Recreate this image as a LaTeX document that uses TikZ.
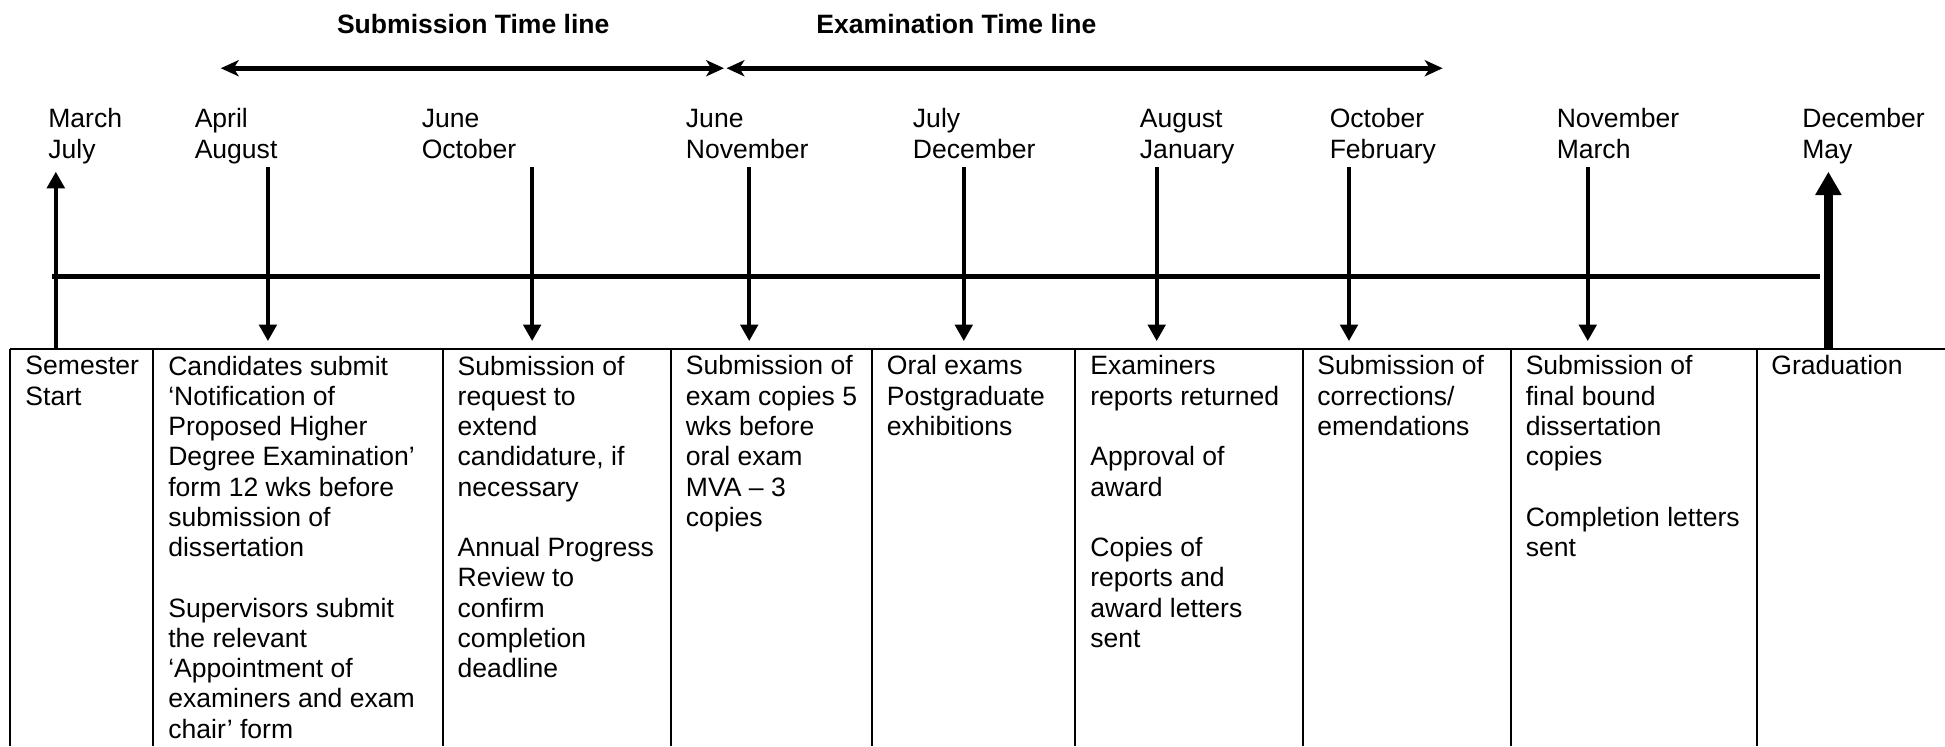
\documentclass[tikz,border=0pt]{standalone}
\usepackage{fontspec}
\setmainfont{Liberation Sans}
\usetikzlibrary{arrows.meta}
\newcommand\cellstrut{\rule{0pt}{8pt}}
\begin{document}
\begin{tikzpicture}[x=0.5pt,y=-0.5pt,
  every node/.style={inner sep=0pt, outer sep=0pt, font=\fontsize{10.7}{12.2}\selectfont},
  cell/.style={anchor=north west, align=left},
  month/.style={anchor=north west, align=left},
  ttl/.style={anchor=base, font=\fontsize{10.7}{12.2}\selectfont\bfseries},
  tick/.style={line width=1.75pt, -{Triangle[length=6.7pt,width=7pt]}},
  bigtick/.style={line width=3.3pt, -{Triangle[length=9.4pt,width=10pt]}},
  span/.style={line width=2pt, {Stealth[length=7.2pt,width=6.5pt,inset=2pt]}-{Stealth[length=7.2pt,width=6.5pt,inset=2pt]}},
  axis/.style={line width=1.9pt},
  grid/.style={line width=0.8pt}]
\useasboundingbox (0,0) rectangle (1568,601.4);

% titles
\node[ttl] (t1) at (381.5,27) {Submission Time line};
\node[ttl] (t2) at (771,27) {Examination Time line};

% span arrows
\coordinate (s1) at (178,55);
\coordinate (s2) at (583.7,55);
\coordinate (s3) at (585.7,55);
\coordinate (s4) at (1163,55);
\draw[span] (s1) -- (s2);
\draw[span] (s3) -- (s4);

% month labels
\node[month] (m1) at (39,87) {\cellstrut March\\July};
\node[month] (m2) at (157,87) {\cellstrut April\\August};
\node[month] (m3) at (340,87) {\cellstrut June\\October};
\node[month] (m4) at (553,87) {\cellstrut June\\November};
\node[month] (m5) at (736,87) {\cellstrut July\\December};
\node[month] (m6) at (919,87) {\cellstrut August\\January};
\node[month] (m7) at (1072,87) {\cellstrut October\\February};
\node[month] (m8) at (1255,87) {\cellstrut November\\March};
\node[month] (m9) at (1453,87) {\cellstrut December\\May};

% main axis
\coordinate (a0) at (42,223);
\coordinate (a1) at (1467,223);
\draw[axis] (a0) -- (a1);

% vertical arrows
\coordinate (u1b) at (45,281.4);  \coordinate (u1t) at (45,138.4);
\draw[tick] (u1b) -- (u1t);
\foreach \i/\x in {2/216,3/429,4/604,5/777,6/932.5,7/1087.5,8/1280}{
  \coordinate (d\i t) at (\x,135);
  \coordinate (d\i b) at (\x,275);
  \draw[tick] (d\i t) -- (d\i b);
}
\coordinate (u9b) at (1474,281.4); \coordinate (u9t) at (1474,138.4);
\draw[bigtick] (u9b) -- (u9t);

% table grid
\coordinate (gtl) at (8,281.4);
\coordinate (gtr) at (1568,281.4);
\draw[grid] (gtl) -- (gtr);
\foreach \x in {8,123.5,357.4,540.6,703,867,1050.5,1218,1416.4}{
  \draw[grid] (\x,281.4) -- (\x,601.4);
}

% table texts
\node[cell] (c1) at (20.5,286.3) {\cellstrut Semester\\Start};
\node[cell] (c2) at (135.7,286.3) {\cellstrut Candidates submit\\‘Notification of\\Proposed Higher\\Degree Examination’\\form 12 wks before\\submission of\\dissertation\\[12.2pt]Supervisors submit\\the relevant\\‘Appointment of\\examiners and exam\\chair’ form};
\node[cell] (c3) at (369,286.3) {\cellstrut Submission of\\request to\\extend\\candidature, if\\necessary\\[12.2pt]Annual Progress\\Review to\\confirm\\completion\\deadline};
\node[cell] (c4) at (553,286.3) {\cellstrut Submission of\\exam copies 5\\wks before\\oral exam\\MVA – 3\\copies};
\node[cell] (c5) at (715,286.3) {\cellstrut Oral exams\\Postgraduate\\exhibitions};
\node[cell] (c6) at (879,286.3) {\cellstrut Examiners\\reports returned\\[12.2pt]Approval of\\award\\[12.2pt]Copies of\\reports and\\award letters\\sent};
\node[cell] (c7) at (1062,286.3) {\cellstrut Submission of\\corrections/\\emendations};
\node[cell] (c8) at (1230,286.3) {\cellstrut Submission of\\final bound\\dissertation\\copies\\[12.2pt]Completion letters\\sent};
\node[cell] (c9) at (1428,286.3) {\cellstrut Graduation};
\end{tikzpicture}
\end{document}
